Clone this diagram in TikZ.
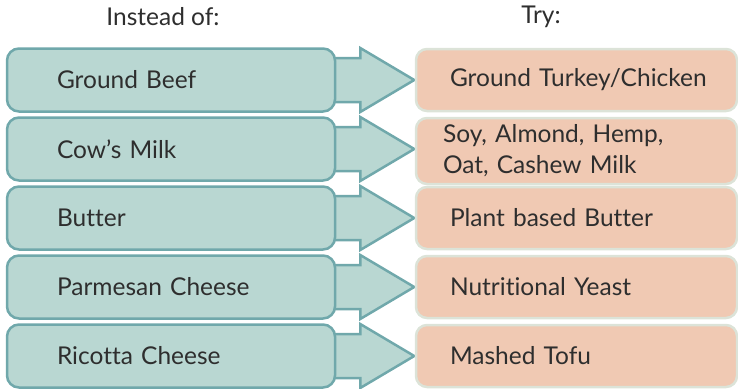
\documentclass[tikz,border=0pt]{standalone}
\usepackage{fontspec}
\setmainfont[Ligatures=NoCommon]{Lato}
\usetikzlibrary{calc,backgrounds}
\definecolor{tealfill}{HTML}{B9D7D2}
\definecolor{tealline}{HTML}{70A8AB}
\definecolor{peachfill}{HTML}{F0C9B3}
\definecolor{peachline}{HTML}{DCE3D8}
\definecolor{txt}{HTML}{2E2E2E}
\newcommand{\indt}[1]{\hspace*{#1}}
\tikzset{
  every node/.style={font=\fontsize{24.5}{31}\selectfont, text=txt},
  leftbox/.style={rounded corners=12pt, fill=tealfill, draw=tealline, line width=2.5pt,
    text width=228pt, inner xsep=50pt, minimum height=63pt, align=left, inner ysep=0pt},
  rightbox/.style={rounded corners=11pt, fill=peachfill, draw=peachline, line width=2.5pt,
    text width=291pt, inner xsep=15pt, minimum height=62pt, align=left, inner ysep=0pt},
  swaparrow/.style={fill=tealfill, draw=tealline, line width=2.5pt, line join=miter},
  header/.style={font=\fontsize{24.5}{30}\selectfont}
}
\begin{document}
\begin{tikzpicture}[x=1pt,y=-1pt]
\useasboundingbox (0,0) rectangle (738,388);
\node[header] (h1) at (163,17) {Instead of:};
\node[header] (h2) at (541,17) {Try:};
\foreach \i/\c/\a in {1/80/Ground Beef, 2/149/Cow’s Milk, 3/218/Butter,
                      4/287/Parmesan Cheese, 5/356/Ricotta Cheese}{
  \node[leftbox] (L\i) at (171,\c) {\a};
}
\node[rightbox] (R1) at (576.5,80) {\indt{19pt}Ground Turkey/Chicken};
\node[rightbox, minimum height=66pt] (R2) at (576.5,151) {\indt{12pt}Soy, Almond, Hemp,\\\indt{12pt}Oat, Cashew Milk};
\node[rightbox] (R3) at (576.5,218) {\indt{19pt}Plant based Butter};
\node[rightbox] (R4) at (576.5,287) {\indt{19pt}Nutritional Yeast};
\node[rightbox] (R5) at (576.5,356) {\indt{19pt}Mashed Tofu};
\begin{pgfonlayer}{background}
\foreach \i in {1,...,5}{
  \draw[swaparrow] ($(L\i.east)+(-6,-22)$) -- ($(L\i.east)+(24,-22)$) -- ($(L\i.east)+(24,-32)$)
    -- ($(L\i.east)+(78,0)$) -- ($(L\i.east)+(24,32)$) -- ($(L\i.east)+(24,22)$)
    -- ($(L\i.east)+(-6,22)$) -- cycle;
}
\end{pgfonlayer}
\end{tikzpicture}
\end{document}
